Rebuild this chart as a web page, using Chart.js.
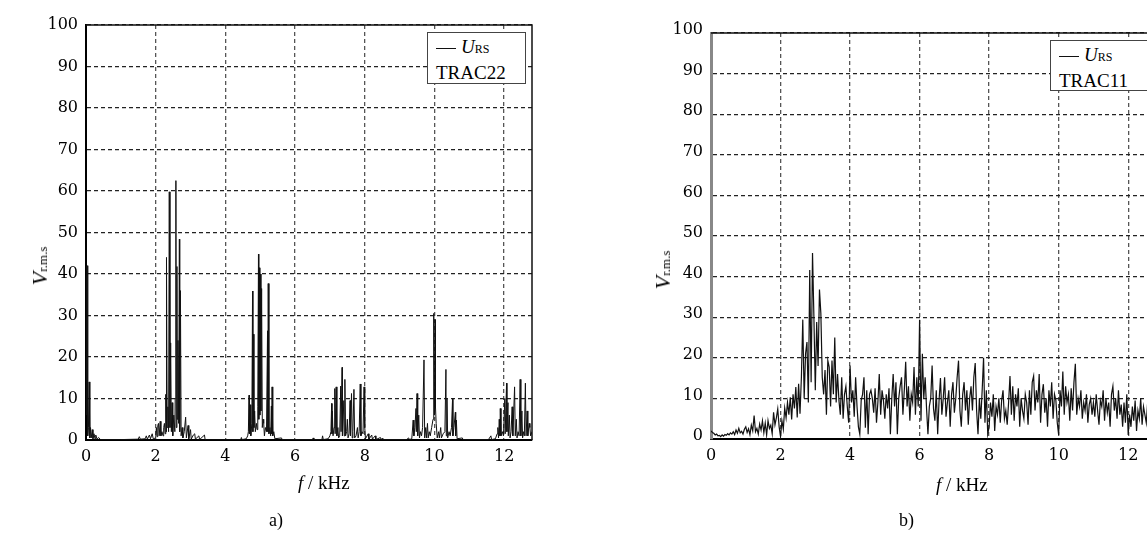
<!DOCTYPE html>
<html>
<head>
<meta charset="utf-8">
<script src="https://cdn.jsdelivr.net/npm/chart.js@4.4.1/dist/chart.umd.min.js"></script>
<style>
html, body { margin: 0; padding: 0; width: 1147px; height: 541px; overflow: hidden; background: #fff; }
.wrap { position: absolute; top: 0; }
#wrapA { left: 0; width: 560px; height: 541px; }
#wrapB { left: 640px; width: 540px; height: 541px; }
.ytitle { position: absolute; transform: translate(-50%, -50%) rotate(-90deg); font: 22px 'Liberation Serif', serif; white-space: nowrap; }
.xtitle { position: absolute; font: 19px 'Liberation Serif', serif; white-space: nowrap; }
.sub { font-size: 12px; font-style: normal; }
.ytitle .sub { font-size: 13px; }
.legend { position: absolute; border: 1px solid #444; background: #fff; font: 19px 'Liberation Serif', serif; line-height: 23px; padding: 2px 8px 3px 8px; box-sizing: border-box; }
.legend .smp { display: inline-block; width: 20px; height: 0; border-top: 1.5px solid #111; vertical-align: middle; margin-right: 5px; }
.cap { position: absolute; font: 18px 'Liberation Serif', serif; }
</style>
</head>
<body>
<div class="wrap" id="wrapA"><canvas id="chartA" width="560" height="541"></canvas></div>
<div class="wrap" id="wrapB"><canvas id="chartB" width="540" height="541"></canvas></div>

<div class="ytitle" style="left:40px; top:266px;"><i>V</i><span class="sub">r.m.s</span></div>
<div class="ytitle" style="left:663px; top:270px;"><i>V</i><span class="sub">r.m.s</span></div>
<div class="xtitle" style="left:298px; top:472px;"><i>f</i> / kHz</div>
<div class="xtitle" style="left:936px; top:474px;"><i>f</i> / kHz</div>
<div class="cap" style="left:269px; top:510px;">a)</div>
<div class="cap" style="left:899px; top:510px;">b)</div>

<div class="legend" style="left:427px; top:32px; width:99px; height:52px;"><span class="smp"></span><i>U</i><span class="sub">RS</span><br>TRAC22</div>
<div class="legend" style="left:1050px; top:40px; width:110px; height:51px;"><span class="smp"></span><i>U</i><span class="sub">RS</span><br>TRAC11</div>

<script>
// a) TRAC22: sparse spectral lines, frequency in kHz
const freqA = [
    0.00, 0.01, 0.03, 0.05, 0.07, 0.09, 0.11, 0.13, 0.15, 0.18, 0.20, 0.23, 0.26, 0.28, 0.32, 0.36, 0.42,
    1.00, 1.50, 1.53, 1.56, 1.70, 1.73, 1.76, 1.82, 1.85, 1.90, 1.93,
    2.00, 2.02, 2.04, 2.06, 2.08, 2.10, 2.13, 2.15, 2.18, 2.21,
    2.23, 2.25, 2.27, 2.29, 2.30, 2.31, 2.33, 2.35, 2.37, 2.39,
    2.41, 2.43, 2.45, 2.47, 2.49, 2.52, 2.55, 2.56, 2.58, 2.59,
    2.61, 2.62, 2.64, 2.66, 2.68, 2.69, 2.71, 2.73, 2.76, 2.78,
    2.82, 2.86, 2.88, 2.93, 2.95, 3.00, 3.02, 3.08, 3.12, 3.14,
    3.24, 3.26, 3.40, 3.42,
    4.44, 4.46, 4.48,
    4.60, 4.64, 4.66, 4.68, 4.69, 4.71, 4.73, 4.76, 4.78, 4.79,
    4.80, 4.82, 4.84, 4.86, 4.89, 4.91, 4.93, 4.95, 4.96, 4.98,
    4.99, 5.01, 5.02, 5.04, 5.06, 5.08, 5.10, 5.12, 5.15, 5.18,
    5.21, 5.22, 5.23, 5.25, 5.28, 5.30, 5.32, 5.33, 5.34, 5.36,
    5.39, 5.42, 5.61, 5.63,
    6.50, 6.52, 6.54, 6.77, 6.79, 6.81,
    6.95, 7.00, 7.03, 7.05, 7.06, 7.07, 7.09, 7.12, 7.14, 7.15,
    7.18, 7.20, 7.23, 7.25, 7.28, 7.31, 7.32, 7.35, 7.36, 7.40,
    7.41, 7.43, 7.45, 7.48, 7.50, 7.52, 7.55, 7.58, 7.59, 7.62,
    7.64, 7.66, 7.69, 7.71, 7.75, 7.79, 7.81, 7.84, 7.87, 7.89,
    7.92, 7.95, 7.98, 8.00, 8.02, 8.10, 8.12, 8.20, 8.22, 8.30,
    8.32, 8.45, 8.47, 8.50, 8.52,
    9.20, 9.26, 9.28,
    9.35, 9.39, 9.41, 9.44, 9.47, 9.48, 9.50, 9.52, 9.55, 9.57,
    9.60, 9.63, 9.66, 9.70, 9.72, 9.75, 9.77, 9.80, 9.82, 9.85,
    9.88, 9.92, 9.96, 9.98, 10.00, 10.02, 10.03, 10.05, 10.08, 10.12,
    10.14, 10.18, 10.20, 10.25, 10.30, 10.33, 10.34, 10.36, 10.38, 10.42,
    10.45, 10.49, 10.52, 10.53, 10.56, 10.60, 10.61, 10.63, 10.65, 10.80,
    10.82,
    11.55, 11.62, 11.64,
    11.75, 11.80, 11.82, 11.84, 11.86, 11.88, 11.89, 11.91, 11.95, 11.98,
    12.02, 12.03, 12.07, 12.08, 12.11, 12.12, 12.15, 12.17, 12.20, 12.23,
    12.25, 12.30, 12.32, 12.35, 12.37, 12.40, 12.43, 12.46, 12.48, 12.51,
    12.53, 12.56, 12.58, 12.61, 12.63, 12.66, 12.68, 12.72, 12.74, 12.76,
    12.80
];
const rmsA = [
    20, 6, 42, 1, 3, 14, 0.5, 3, 0.5, 2.5, 0.3, 1.5, 0.2, 1.2, 0.2, 0.6, 0.1,
    0.1, 0.2, 0.8, 0.2, 0.3, 1.0, 0.2, 1.2, 0.3, 1.5, 0.3,
    0.5, 3.0, 0.8, 3.5, 4.0, 1.0, 4.5, 1.0, 2.0, 1.0,
    3.0, 4.0, 1.5, 11.0, 2.0, 44.0, 3.0, 8.0, 2.0, 59.8,
    3.0, 23.4, 2.0, 9.0, 1.0, 6.0, 2.0, 10.0, 62.5, 3.0,
    41.8, 5.0, 24.0, 4.0, 48.4, 2.0, 36.0, 1.0, 3.0, 0.5,
    2.0, 5.5, 0.5, 3.5, 0.3, 2.5, 0.2, 1.2, 1.5, 0.2,
    1.0, 0.1, 1.2, 0.0,
    0.1, 0.6, 0.1,
    0.3, 1.0, 2.0, 10.8, 1.5, 8.5, 1.0, 4.0, 35.9, 2.0,
    25.5, 3.0, 7.0, 2.0, 4.0, 2.5, 8.0, 44.8, 5.0, 41.5,
    6.0, 40.0, 7.0, 36.5, 3.0, 5.0, 4.0, 1.0, 3.0, 2.0,
    26.3, 2.0, 37.7, 1.5, 3.0, 1.0, 8.2, 1.5, 12.8, 1.0,
    2.0, 0.3, 0.5, 0.1,
    0.1, 0.5, 0.1, 0.1, 1.0, 0.1,
    0.3, 1.0, 2.0, 8.8, 1.5, 7.0, 1.0, 3.0, 12.4, 1.5,
    12.8, 1.0, 3.0, 0.5, 1.0, 13.0, 2.0, 17.5, 1.0, 9.5,
    1.0, 14.6, 1.0, 2.0, 5.0, 0.5, 1.5, 9.5, 1.0, 11.2,
    0.5, 2.0, 12.2, 0.5, 1.0, 3.0, 0.5, 2.0, 13.5, 1.0,
    2.0, 1.5, 12.8, 3.0, 0.3, 1.5, 0.2, 1.2, 0.2, 1.0,
    0.1, 0.6, 0.1, 0.4, 0.1,
    0.1, 0.5, 0.1,
    0.3, 4.8, 1.0, 3.0, 7.6, 2.0, 11.2, 1.0, 6.0, 0.5,
    2.0, 1.0, 3.0, 19.3, 0.5, 3.0, 0.5, 4.0, 0.5, 2.0,
    1.0, 3.0, 5.0, 30.5, 6.0, 29.0, 8.0, 4.0, 0.5, 2.0,
    0.5, 3.0, 0.5, 1.5, 2.0, 17.0, 1.0, 10.0, 0.5, 2.0,
    1.0, 3.0, 10.0, 1.0, 3.0, 6.7, 1.0, 4.8, 0.3, 0.5,
    0.1,
    0.1, 1.0, 0.1,
    0.3, 1.5, 3.0, 0.5, 5.0, 1.0, 7.6, 1.0, 2.0, 1.0,
    10.0, 1.5, 13.7, 2.0, 9.0, 1.0, 6.0, 0.5, 2.0, 8.0,
    1.0, 12.8, 1.0, 5.0, 0.5, 2.0, 1.0, 14.6, 1.0, 7.0,
    0.5, 2.0, 1.0, 13.7, 1.0, 7.0, 1.0, 4.0, 3.0, 1.0,
    2.0
];

// b) TRAC11: broadband spectrum, one value per 0.04 kHz bin (0 ... 12.8 kHz)
const binStepB = 0.04;
const rmsB = [
    2.0, 1.6, 1.4, 1.0, 1.2,  0.8, 0.9, 0.6, 1.0, 0.7,  1.1, 0.9, 1.3, 1.0, 1.5,  1.2, 1.8, 1.1, 2.2, 1.4,  2.6, 1.5, 1.9, 1.2, 2.4,
    3.0, 1.6, 2.5, 1.1, 3.4,  2.0, 5.8, 1.8, 2.6, 1.2,  3.7, 2.2, 4.5, 1.5, 3.9,  1.0, 4.5, 2.6, 3.4, 1.3,  6.6, 3.5, 5.2, 7.4, 3.0,
    0.6, 4.5, 2.4, 7.6, 5.2,  9.0, 6.0, 10.3, 4.8, 11.0,  7.5, 12.8, 5.3, 13.6, 6.2,  15.2, 29.4, 10.0, 21.0, 23.9,  9.0, 41.6, 14.0, 45.8, 30.0,
    12.0, 28.8, 18.0, 36.8, 30.9,  15.2, 11.0, 17.0, 6.0, 19.3,  17.7, 8.0, 19.3, 11.0, 25.0,  9.0, 16.0, 9.5, 6.0, 15.2,  5.0, 11.0, 13.0, 8.0, 4.0,
    18.1, 9.0, 12.0, 5.5, 15.2,  8.0, 3.0, 1.2, 9.5, 11.0,  15.2, 2.8, 12.0, 1.2, 11.0,  12.0, 10.0, 6.5, 12.5, 4.0,  9.0, 16.0, 6.0, 12.0, 9.5,
    5.0, 11.0, 7.5, 12.5, 1.2,  10.0, 16.0, 8.0, 14.0, 1.2,  10.0, 13.0, 15.2, 6.0, 12.0,  19.0, 8.0, 13.0, 4.5, 11.0,  9.0, 17.7, 6.0, 15.2, 8.0,
    29.4, 4.5, 21.0, 10.0, 15.2,  7.5, 1.2, 8.0, 10.0, 18.1,  7.5, 4.5, 12.0, 1.2, 9.5,  15.0, 6.0, 10.0, 15.2, 5.5,  9.0, 12.0, 3.0, 11.0, 14.0,
    6.5, 10.0, 15.2, 19.3, 7.0,  3.0, 11.0, 14.0, 7.0, 12.0,  3.5, 10.0, 13.0, 7.0, 15.2,  18.7, 7.0, 1.2, 10.0, 5.0,  12.0, 20.0, 4.0, 12.0, 1.2,
    3.0, 9.0, 5.5, 11.0, 2.0,  8.0, 6.0, 10.0, 4.0, 9.5,  12.0, 5.0, 7.0, 3.5, 9.0,  15.5, 6.0, 13.0, 4.5, 11.0,  8.0, 12.5, 3.0, 10.0, 7.0,
    5.0, 11.0, 9.0, 3.5, 12.0,  6.0, 14.0, 15.5, 7.0, 12.0,  9.0, 16.0, 4.0, 11.0, 13.5,  6.5, 10.0, 3.0, 12.0, 8.0,  14.0, 5.0, 11.0, 9.5, 4.0,
    1.0, 12.0, 8.0, 16.6, 6.0,  13.0, 9.0, 11.0, 4.5, 12.5,  7.0, 14.0, 18.5, 6.0, 10.0,  8.0, 12.0, 5.0, 9.0, 7.0,  11.0, 4.0, 8.5, 10.0, 6.0,
    9.0, 5.5, 11.0, 7.0, 3.5,  9.5, 8.0, 12.0, 4.5, 10.0,  6.5, 9.0, 3.0, 11.0, 13.0,  7.0, 10.0, 5.0, 12.0, 6.0,  8.5, 3.0, 9.0, 4.0, 11.0,
    1.0, 6.0, 3.0, 8.0, 4.5,  9.5, 2.0, 7.0, 5.0, 10.0,  3.5, 8.0, 6.0, 4.0, 9.0,  5.5, 7.5, 3.0, 8.0, 6.0,  5.0
];
const freqB = rmsB.map((v, i) => +(i * binStepB).toFixed(2));

const freqMax = 12.8;
const freqStep = 2;
const rmsMax = 100;
const rmsStep = 10;

// top + right border of the plot box
const framePlugin = {
    id: 'frame',
    afterDraw(chart, args, opts) {
        const ctx = chart.ctx;
        const a = chart.chartArea;
        ctx.save();
        ctx.strokeStyle = opts.color;
        ctx.lineWidth = opts.width;
        ctx.beginPath();
        ctx.moveTo(a.left, a.top);
        ctx.lineTo(a.right, a.top);
        ctx.lineTo(a.right, a.bottom);
        ctx.stroke();
        ctx.restore();
    }
};

function makeChart(id, xs, ys, cfg) {
    return new Chart(document.getElementById(id), {
        type: 'line',
        data: {
            datasets: [{
                label: 'URS',
                data: xs.map((x, i) => ({ x: x, y: ys[i] })),
                borderColor: '#111',
                borderWidth: cfg.lineWidth,
                pointRadius: 0,
                tension: 0,
                fill: false
            }]
        },
        options: {
            responsive: false,
            animation: false,
            devicePixelRatio: 1,
            layout: { padding: { top: cfg.top, right: cfg.right, left: 0, bottom: 0 } },
            plugins: {
                legend: { display: false },
                tooltip: { enabled: false },
                frame: { color: '#111', width: 1.5 }
            },
            scales: {
                x: {
                    type: 'linear',
                    min: 0,
                    max: freqMax,
                    afterFit: (s) => { s.height = cfg.xh; },
                    ticks: {
                        stepSize: freqStep,
                        includeBounds: false,
                        maxRotation: 0,
                        padding: 7,
                        color: '#000',
                        font: { family: 'DejaVu Serif', size: 16 }
                    },
                    grid: { color: '#555', lineWidth: 1.3, drawTicks: false },
                    border: { color: '#000', width: 2, dash: [4, 3] }
                },
                y: {
                    min: 0,
                    max: rmsMax,
                    afterFit: (s) => { s.width = cfg.yw; },
                    ticks: {
                        stepSize: rmsStep,
                        padding: 8,
                        labelOffset: cfg.yLabelOffset,
                        color: '#000',
                        font: { family: 'DejaVu Serif', size: 16 }
                    },
                    grid: { color: '#222', lineWidth: 1.3, drawTicks: false },
                    border: { color: cfg.yBorder, width: cfg.yBorderWidth, dash: [4, 3] }
                }
            }
        },
        plugins: [framePlugin]
    });
}

makeChart('chartA', freqA, rmsA, { top: 25, right: 28, xh: 101, yw: 86, yLabelOffset: 0, yBorder: '#000', yBorderWidth: 2, lineWidth: 1 });
makeChart('chartB', freqB, rmsB, { top: 33, right: 24, xh: 102, yw: 71, yLabelOffset: -3, yBorder: '#888', yBorderWidth: 3, lineWidth: 1.2 });
</script>
</body>
</html>
